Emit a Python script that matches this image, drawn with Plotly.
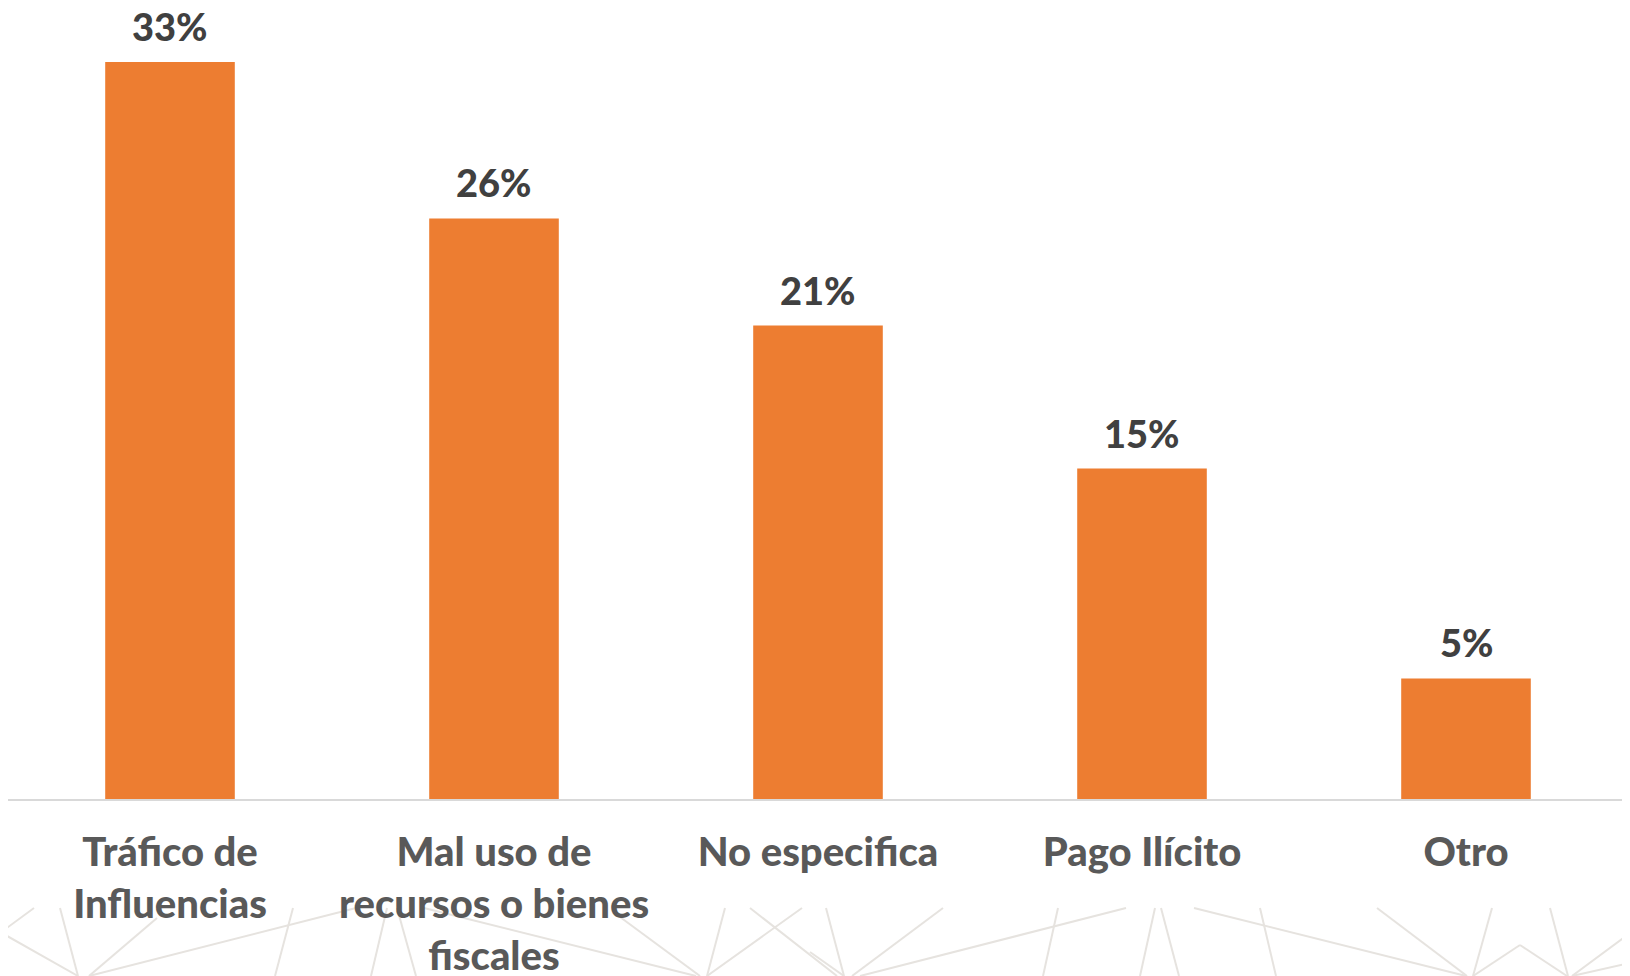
import plotly.graph_objects as go

categories = ["Tráfico de<br>Influencias", "Mal uso de<br>recursos o bienes<br>fiscales",
              "No especifica", "Pago Ilícito", "Otro"]
values = [33.0, 26.0, 21.2, 14.8, 5.4]

OFF = 8  # page body margin
W, H = 1622, 968
ML, MR, MT, MB = 0, 2, 2, 177
PW, PH = W - ML - MR, H - MT - MB
px_per_unit = 22.33

# decorative background lines (pixel coords of the page)
deco = [
    (34, 908, 0, 933), (0, 932, 78, 976), (60, 908, 78, 976), (157, 918, 89, 976),
    (356, 908, 89, 976), (293, 908, 275, 976), (387, 908, 371, 976), (397, 908, 416, 976),
    (424, 908, 696, 976), (620, 917, 700, 976), (725, 908, 707, 976), (802, 908, 707, 976),
    (750, 908, 837, 976), (826, 908, 844, 976), (810, 952, 844, 976), (943, 908, 852, 976),
    (1126, 908, 860, 976), (1058, 908, 1043, 976), (1155, 908, 1140, 976), (1161, 908, 1179, 976),
    (1194, 908, 1466, 976), (1260, 908, 1276, 976), (1377, 908, 1467, 976), (1492, 908, 1473, 976),
    (1520, 945, 1473, 976), (1520, 945, 1567, 976), (1550, 908, 1568, 976), (1630, 933, 1572, 976),
    (1630, 963, 1572, 976),
]

def to_paper(x, y):
    fx, fy = x - OFF, y - OFF
    return (fx - ML) / PW, (H - MB - fy) / PH

shapes = []
for x0, y0, x1, y1 in deco:
    a0, b0 = to_paper(x0, y0)
    a1, b1 = to_paper(x1, y1)
    shapes.append(dict(type="line", xref="paper", yref="paper", x0=a0, y0=b0, x1=a1, y1=b1,
                       line=dict(color="#e6e3df", width=2), layer="below"))

fig = go.Figure(go.Bar(
    x=categories, y=values, width=0.4,
    marker=dict(color="#ED7D31", line=dict(width=0)),
    cliponaxis=False, hoverinfo="x+y",
))

annotations = [
    dict(x=c, y=v, xref="x", yref="y", text=f"{v:.0f}%", showarrow=False,
         yanchor="middle", yshift=36,
         font=dict(family="Lato", size=38, color="#404040", weight=900))
    for c, v in zip(categories, values)
]

fig.update_layout(
    width=W, height=H,
    margin=dict(l=ML, r=MR, t=MT, b=MB, autoexpand=False),
    paper_bgcolor="white", plot_bgcolor="white",
    showlegend=False, shapes=shapes, annotations=annotations,
    xaxis=dict(showline=True, linecolor="#d9d9d9", linewidth=2, ticks="",
               tickfont=dict(family="Lato", size=40, color="#595959", weight=900),
               ticklabelstandoff=17, showgrid=False),
    yaxis=dict(range=[0, PH / px_per_unit], visible=False, showgrid=False, zeroline=False),
)

fig.write_html("out.html")
